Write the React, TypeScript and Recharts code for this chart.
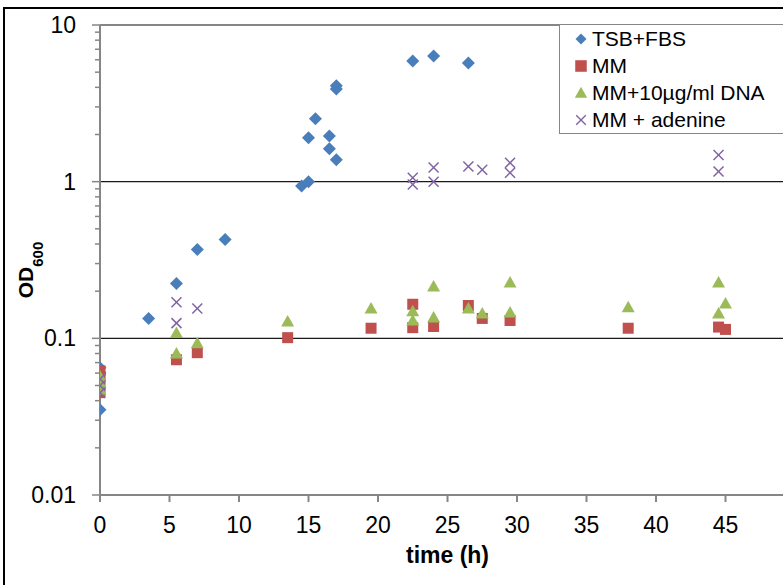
import { ScatterChart, Scatter, XAxis, YAxis, ReferenceLine } from 'recharts';

// time (h) and OD600 readings per medium
const tsbTime = [0, 0, 0, 3.5, 5.5, 7, 9, 14.5, 15, 15, 15.5, 16.5, 16.5, 17, 17, 17, 22.5, 24, 26.5];
const tsbOd = [0.065, 0.06, 0.035, 0.134, 0.224, 0.369, 0.427, 0.94, 1.0, 1.91, 2.52, 1.96, 1.62, 1.38, 4.1, 3.9, 5.9, 6.34, 5.73];

const mmTime = [0, 0, 0, 0, 5.5, 7, 13.5, 19.5, 22.5, 22.5, 24, 26.5, 27.5, 29.5, 38, 44.5, 45];
const mmOd = [0.062, 0.057, 0.051, 0.045, 0.073, 0.081, 0.101, 0.116, 0.165, 0.117, 0.119, 0.162, 0.134, 0.13, 0.116, 0.118, 0.114];

const dnaTime = [0, 0, 0, 5.5, 5.5, 7, 13.5, 19.5, 22.5, 22.5, 24, 24, 26.5, 27.5, 29.5, 29.5, 38, 44.5, 44.5, 45];
const dnaOd = [0.057, 0.052, 0.047, 0.108, 0.08, 0.093, 0.128, 0.155, 0.149, 0.13, 0.214, 0.136, 0.155, 0.144, 0.227, 0.146, 0.158, 0.227, 0.144, 0.167];

const adeTime = [0, 0, 0, 5.5, 5.5, 7, 22.5, 22.5, 24, 24, 26.5, 27.5, 29.5, 29.5, 44.5, 44.5];
const adeOd = [0.055, 0.05, 0.045, 0.17, 0.125, 0.155, 1.06, 0.96, 1.23, 1.0, 1.25, 1.19, 1.32, 1.14, 1.48, 1.16];

const xTicks = [0, 5, 10, 15, 20, 25, 30, 35, 40, 45];
const yMajor = [0.01, 0.1, 1, 10];
const yTicks = [
  0.01, 0.02, 0.03, 0.04, 0.05, 0.06, 0.07, 0.08, 0.09,
  0.1, 0.2, 0.3, 0.4, 0.5, 0.6, 0.7, 0.8, 0.9,
  1, 2, 3, 4, 5, 6, 7, 8, 9, 10,
];

const toPoints = (t: number[], v: number[]) => t.map((time, i) => ({ time, od: v[i] }));

const BLUE = '#4a7ebb';
const RED = '#c0504d';
const GREEN = '#9bbb59';
const PURPLE = '#8064a2';
const AXIS = '#868686';
const FONT = '"Liberation Sans", Arial, sans-serif';

const Diamond = ({ cx, cy }: any) => (
  <polygon points={`${cx},${cy - 6.5} ${cx + 6.5},${cy} ${cx},${cy + 6.5} ${cx - 6.5},${cy}`} fill={BLUE} />
);
const Square = ({ cx, cy }: any) => <rect x={cx - 5.5} y={cy - 5.5} width={11} height={11} fill={RED} />;
const Triangle = ({ cx, cy }: any) => (
  <polygon points={`${cx},${cy - 6.5} ${cx + 6.5},${cy + 5} ${cx - 6.5},${cy + 5}`} fill={GREEN} />
);
const Cross = ({ cx, cy }: any) => (
  <g stroke={PURPLE} strokeWidth={1.5}>
    <line x1={cx - 5} y1={cy - 5} x2={cx + 5} y2={cy + 5} />
    <line x1={cx - 5} y1={cy + 5} x2={cx + 5} y2={cy - 5} />
  </g>
);

const YTick = ({ x, y, payload }: any) => {
  const v = payload.value;
  const major = yMajor.includes(v);
  // text sits 24px left of the axis line
  const ax = x + 24;
  return (
    <g>
      <line x1={ax - (major ? 8 : 5)} y1={y} x2={ax} y2={y} stroke={AXIS} strokeWidth={1.5} />
      {major && (
        <text x={x} y={y} dy={8} textAnchor="end" fontSize={23} fontFamily={FONT} fill="#000">
          {String(v)}
        </text>
      )}
    </g>
  );
};

const OdLabel = ({ viewBox }: any) => {
  const cy = viewBox.y + viewBox.height / 2 + 10;
  return (
    <text x={33} y={cy} transform={`rotate(-90, 33, ${cy})`} textAnchor="middle" fontFamily={FONT} fontWeight="bold" fontSize={21} fill="#000">
      OD<tspan fontSize={15} dy={10}>600</tspan>
    </text>
  );
};

const TimeLabel = ({ viewBox }: any) => (
  <text x={viewBox.x + viewBox.width / 2} y={563} textAnchor="middle" fontFamily={FONT} fontWeight="bold" fontSize={23} fill="#000">
    time (h)
  </text>
);

const legendItems = [
  { name: 'TSB+FBS', Shape: Diamond, s: 0.85 },
  { name: 'MM', Shape: Square, s: 1.05 },
  { name: 'MM+10µg/ml DNA', Shape: Triangle, s: 0.95 },
  { name: 'MM + adenine', Shape: Cross, s: 0.95 },
];

export default function App() {
  return (
    <div style={{ position: 'absolute', left: 0, top: 0, width: 783, height: 585, overflow: 'hidden', background: '#fff' }}>
      <div style={{ position: 'absolute', left: 3, top: 7, width: 820, height: 620, border: '2px solid #000', boxSizing: 'border-box' }} />
      <div style={{ position: 'absolute', left: 0, top: 0 }}>
        <ScatterChart width={820} height={585} margin={{ top: 25, right: 25, left: 0, bottom: 0 }}>
          <XAxis
            type="number"
            dataKey="time"
            domain={[0, 50]}
            ticks={xTicks}
            allowDataOverflow
            height={90}
            stroke={AXIS}
            strokeWidth={2}
            tickSize={7}
            tickMargin={15}
            tick={{ fontSize: 23, fontFamily: FONT, fill: '#000' }}
            label={<TimeLabel />}
          />
          <YAxis
            type="number"
            dataKey="od"
            scale="log"
            domain={[0.01, 10]}
            ticks={yTicks}
            interval={0}
            allowDataOverflow
            width={100}
            stroke={AXIS}
            strokeWidth={2}
            tickLine={false}
            tickSize={0}
            tickMargin={24}
            tick={<YTick />}
            label={<OdLabel />}
          />
          <ReferenceLine y={10} stroke={AXIS} strokeWidth={2} />
          <ReferenceLine y={1} stroke="#1a1a1a" strokeWidth={1.2} />
          <ReferenceLine y={0.1} stroke="#1a1a1a" strokeWidth={1.2} />
          <Scatter name="TSB+FBS" data={toPoints(tsbTime, tsbOd)} shape={<Diamond />} isAnimationActive={false} />
          <Scatter name="MM" data={toPoints(mmTime, mmOd)} shape={<Square />} isAnimationActive={false} />
          <Scatter name="MM+10µg/ml DNA" data={toPoints(dnaTime, dnaOd)} shape={<Triangle />} isAnimationActive={false} />
          <Scatter name="MM + adenine" data={toPoints(adeTime, adeOd)} shape={<Cross />} isAnimationActive={false} />
        </ScatterChart>
      </div>
      <div
        style={{
          position: 'absolute', left: 559, top: 24, width: 260, height: 110, boxSizing: 'border-box',
          border: `1.5px solid ${AXIS}`, background: '#fff', fontFamily: FONT, fontSize: 21, paddingTop: 1,
        }}
      >
        {legendItems.map(({ name, Shape, s }) => (
          <div key={name} style={{ display: 'flex', alignItems: 'center', height: 26.8 }}>
            <svg width={32} height={20} style={{ flex: 'none' }}>
              <g transform={`translate(21,10) scale(${s})`}>
                <Shape cx={0} cy={0} />
              </g>
            </svg>
            <span>{name}</span>
          </div>
        ))}
      </div>
    </div>
  );
}
